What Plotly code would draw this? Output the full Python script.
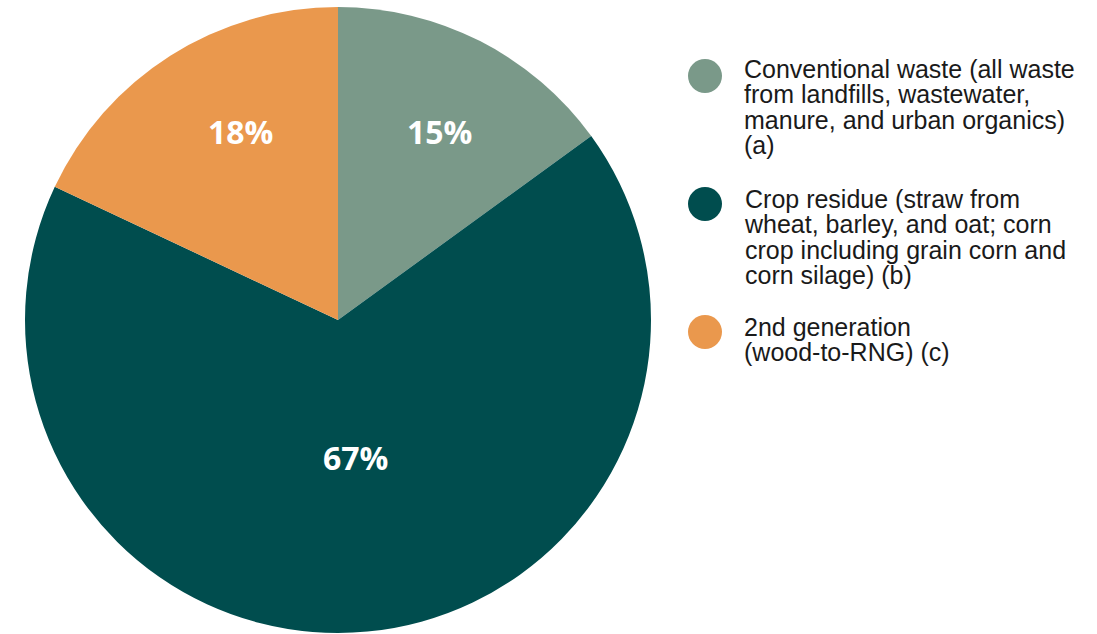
import plotly.graph_objects as go

# Share of feedstock by category (percent)
categories = [
    "Conventional waste (all waste from landfills, wastewater, manure, and urban organics) (a)",
    "Crop residue (straw from wheat, barley, and oat; corn crop including grain corn and corn silage) (b)",
    "2nd generation (wood-to-RNG) (c)",
]
legend_lines = [
    ["Conventional waste (all waste", "from landfills, wastewater,", "manure, and urban organics)", "(a)"],
    ["Crop residue (straw from", "wheat, barley, and oat; corn", "crop including grain corn and", "corn silage) (b)"],
    ["2nd generation", "(wood-to-RNG) (c)"],
]
shares = [15, 67, 18]
colors = ["#7a9989", "#004d4e", "#ea984d"]

W, H = 1097, 634
cx, cy, R = 338, 320, 313


def px(x):
    return x / W


def py(y):
    return (H - y) / H


fig = go.Figure(
    go.Pie(
        labels=categories,
        values=shares,
        sort=False,
        direction="clockwise",
        rotation=0,
        marker=dict(colors=colors, line=dict(width=0)),
        textinfo="none",
        hoverinfo="label+percent",
        showlegend=False,
        domain=dict(x=[px(cx - R), px(cx + R)], y=[py(cy + R), py(cy - R)]),
    )
)

# Percentage labels placed inside each slice
label_xy = [(439, 131), (355, 457), (240, 131)]
for v, (lx, ly) in zip(shares, label_xy):
    fig.add_annotation(
        text=f"{v}%", xref="paper", yref="paper",
        x=px(lx), y=py(ly), xanchor="center", yanchor="middle",
        showarrow=False,
        font=dict(family="Open Sans", size=32, color="white", weight="bold"),
    )

# Legend: colored circles with wrapped descriptions.
# Line spacing follows the base font size (1.3x), so a smaller base size
# with larger inline glyphs gives tight leading.
circle_y = [76, 204, 332]
group_top = [54, 184, 312]
for lines, color, cyy, top in zip(legend_lines, colors, circle_y, group_top):
    fig.add_shape(
        type="circle", xref="paper", yref="paper",
        x0=px(705 - 17), x1=px(705 + 17),
        y0=py(cyy + 17), y1=py(cyy - 17),
        fillcolor=color, line=dict(width=0),
    )
    body = "<br>".join(f"<span style='font-size:25px'>{ln}</span>" for ln in lines)
    fig.add_annotation(
        text=body, xref="paper", yref="paper",
        x=px(743), y=py(top), xanchor="left", yanchor="top",
        align="left", showarrow=False, borderpad=0,
        font=dict(family="Liberation Sans, Arial", size=19.6, color="#1a1a1a"),
    )

fig.update_layout(
    width=W, height=H,
    margin=dict(l=0, r=0, t=0, b=0),
    paper_bgcolor="white",
    plot_bgcolor="white",
)

fig.write_html("out.html")
